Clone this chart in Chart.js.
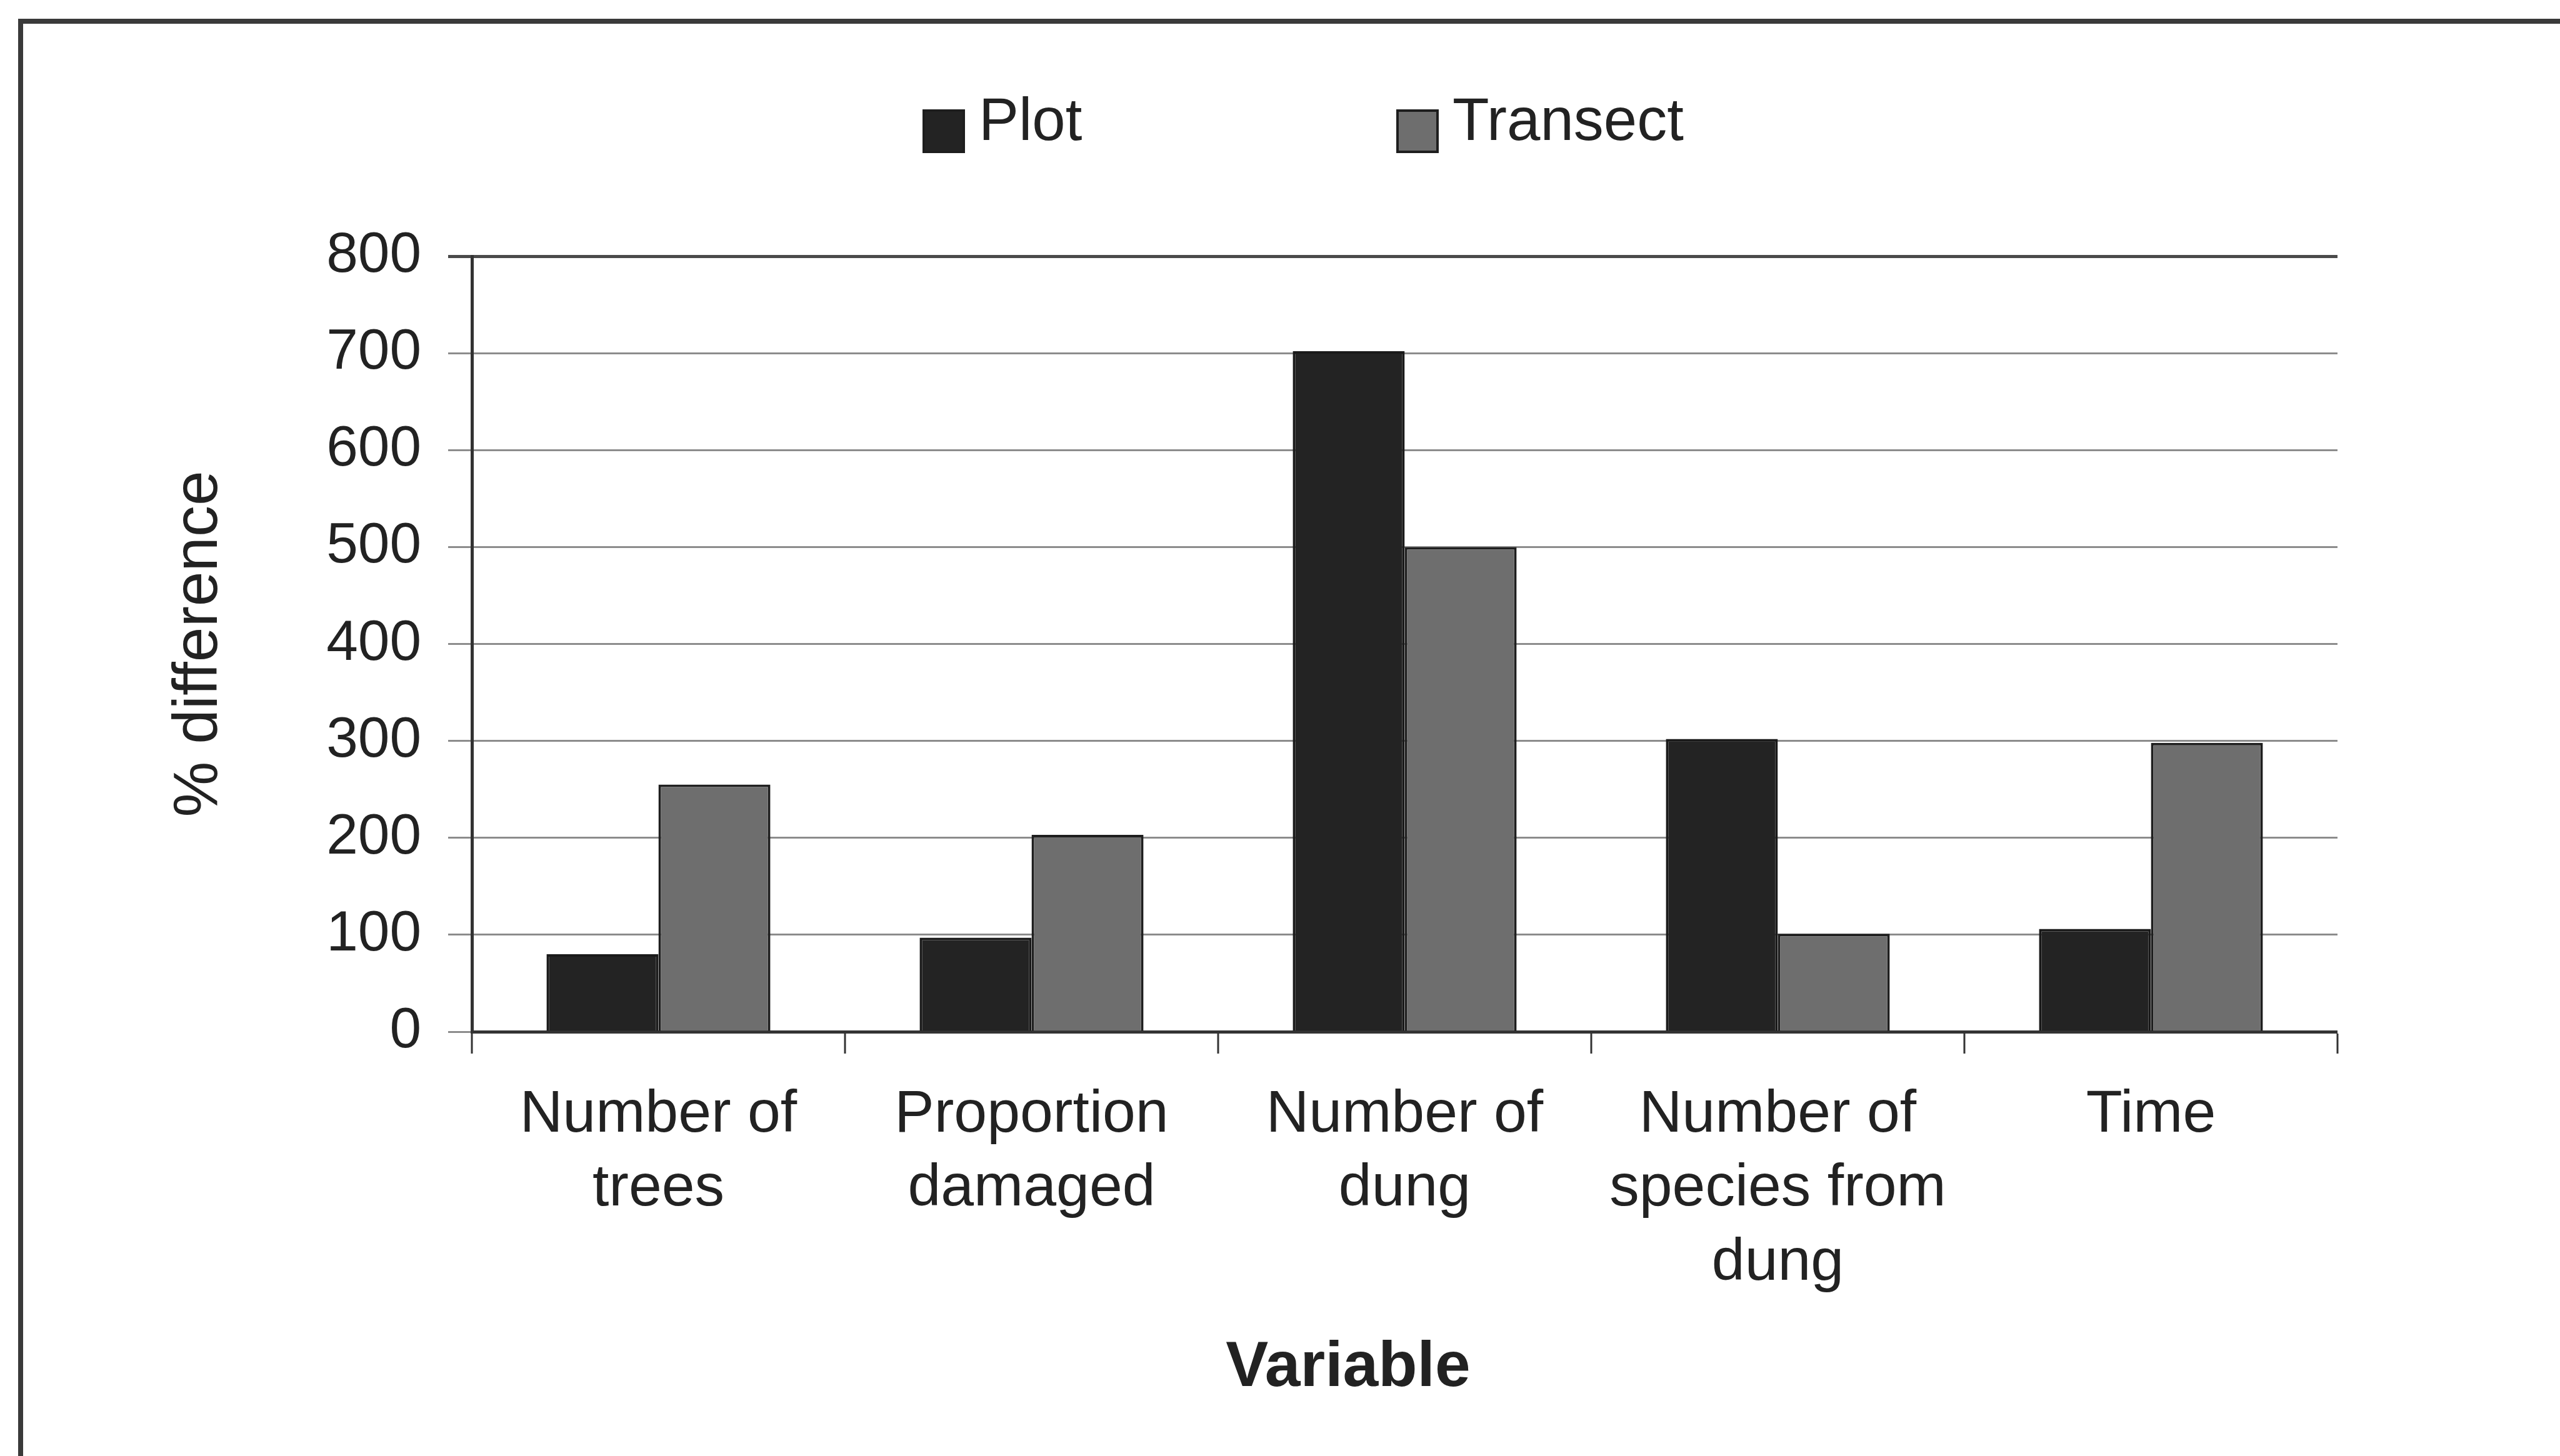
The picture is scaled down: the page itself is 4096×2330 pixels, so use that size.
<!DOCTYPE html>
<html>
<head>
<meta charset="utf-8">
<script src="https://cdn.jsdelivr.net/npm/chart.js@4.4.0/dist/chart.umd.min.js"></script>
<style>
  html, body { margin: 0; padding: 0; background: #fff; overflow: hidden; }
  #chart { display: block; }
</style>
</head>
<body>
<canvas id="chart" width="4096" height="2330"></canvas>
<script>
// data
const categories = [
  ["Number of", "trees"],
  ["Proportion", "damaged"],
  ["Number of", "dung"],
  ["Number of", "species from", "dung"],
  "Time",
];
const seriesNames = ["Plot", "Transect"];
const plotValues = [80, 97, 702, 302, 106];
const transectValues = [255, 203, 500, 101, 298];
const yTicks = [0, 100, 200, 300, 400, 500, 600, 700, 800];

const seriesColors = ["#232323", "#6e6e6e"];
const fontFamily = "'Liberation Sans', Arial, Helvetica, sans-serif";
Chart.defaults.font.family = fontFamily;
Chart.defaults.color = "#222";

// outer frame, legend and the x axis title
const decor = {
  id: "decor",
  beforeDraw(chart) {
    const ctx = chart.ctx;
    ctx.save();
    ctx.fillStyle = "#fff";
    ctx.fillRect(0, 0, chart.width, chart.height);
    ctx.strokeStyle = "#3a3a3a";
    ctx.lineWidth = 8;
    ctx.beginPath();
    ctx.moveTo(33, chart.height);
    ctx.lineTo(33, 34);
    ctx.lineTo(chart.width, 34);
    ctx.stroke();
    ctx.restore();
  },
  afterDraw(chart) {
    const ctx = chart.ctx;
    ctx.save();
    const boxX = [1476, 2234];
    ctx.font = "96px " + fontFamily;
    ctx.textBaseline = "middle";
    ctx.textAlign = "left";
    chart.data.datasets.forEach((ds, i) => {
      ctx.fillStyle = ds.backgroundColor;
      ctx.fillRect(boxX[i], 175, 68, 70);
      ctx.strokeStyle = "#1e1e1e";
      ctx.lineWidth = 4;
      ctx.strokeRect(boxX[i] + 2, 177, 64, 66);
      ctx.fillStyle = "#222";
      ctx.fillText(ds.label, boxX[i] + 90, 198);
    });
    ctx.font = "bold 102px " + fontFamily;
    ctx.textAlign = "center";
    ctx.fillText("Variable", 2157, 2190);
    ctx.restore();
  }
};

const ctx = document.querySelector("#chart").getContext("2d");

const chart = new Chart(ctx, {
  type: "bar",
  data: {
    labels: categories,
    datasets: [
      {
        label: seriesNames[0],
        data: plotValues,
        backgroundColor: seriesColors[0],
        borderColor: "#1a1a1a",
        borderWidth: 4,
        categoryPercentage: 0.6,
        barPercentage: 1.0,
      },
      {
        label: seriesNames[1],
        data: transectValues,
        backgroundColor: seriesColors[1],
        borderColor: "#1e1e1e",
        borderWidth: 4,
        categoryPercentage: 0.6,
        barPercentage: 1.0,
      },
    ],
  },
  options: {
    responsive: false,
    animation: false,
    devicePixelRatio: 1,
    events: [],
    layout: { padding: { top: 410, right: 356, bottom: 0, left: 0 } },
    plugins: {
      legend: { display: false },
      tooltip: { enabled: false },
    },
    scales: {
      x: {
        grid: {
          offset: true,
          drawOnChartArea: true,
          lineWidth: (c) => (c.index === categories.length ? 4 : 0),
          color: "#555",
          tickLength: 35,
          tickWidth: 3,
          tickColor: "#333",
        },
        border: { display: true, color: "#333", width: 5 },
        ticks: {
          font: { size: 95, lineHeight: 1.25 },
          color: "#222",
          padding: 39,
          maxRotation: 0,
          autoSkip: false,
        },
        afterFit: (scale) => { scale.height = 679; },
      },
      y: {
        min: yTicks[0],
        max: yTicks[yTicks.length - 1],
        grid: {
          color: (c) => (c.tick && c.tick.value === 800 ? "#4a4a4a" : "#8c8c8c"),
          lineWidth: (c) => (c.tick && c.tick.value === 800 ? 5 : 3),
          tickLength: 38,
        },
        border: { display: true, color: "#333", width: 5 },
        ticks: {
          stepSize: yTicks[1] - yTicks[0],
          font: { size: 91 },
          color: "#222",
          padding: 43,
        },
        title: {
          display: true,
          text: "% difference",
          font: { size: 100 },
          color: "#222",
          padding: { top: 259, bottom: 0 },
        },
        afterFit: (scale) => { scale.width = 755; },
      },
    },
  },
  plugins: [decor],
});
</script>
</body>
</html>
